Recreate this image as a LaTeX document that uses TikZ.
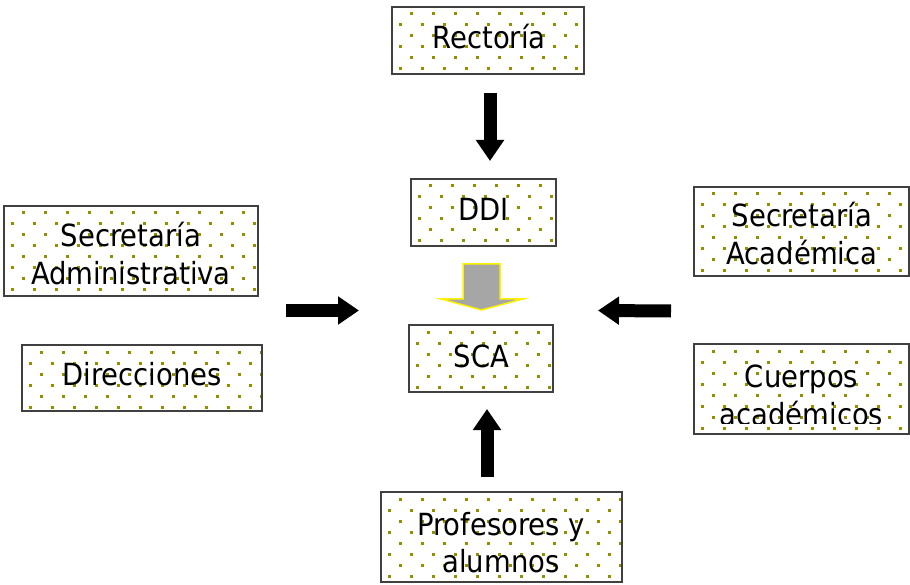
\documentclass[tikz,border=0pt]{standalone}
\usepackage{fontspec}
\setmainfont{DejaVu Sans Condensed}
\usetikzlibrary{arrows.meta,calc}
\definecolor{dotc}{RGB}{145,145,0}
\definecolor{boxline}{RGB}{64,64,64}
\definecolor{arrgray}{RGB}{166,166,166}
\newcommand\mydots[4]{%
  \begin{scope}
    \clip (#1,#2) rectangle (#3,#4);
    \foreach \r [evaluate=\r as \off using {11*(1-mod(\r,2))}] in {0,...,8}{
      \foreach \c in {-1,...,11}{
        \fill[dotc] ({#1+8+\c*22+\off-1.5},{#2+7+\r*11-1.5}) rectangle ++(3,3);
      }
    }
  \end{scope}}
\tikzset{
  boxn/.style={draw=boxline, line width=2pt, inner sep=0pt},
  lbl/.style={anchor=base, inner sep=0pt, font=\fontsize{30.5}{36}\selectfont},
  blk/.style={line width=13pt, -{Triangle[width=27pt,length=21pt]}, black},
}
\begin{document}
\begin{tikzpicture}[x=1pt,y=-1pt]
\useasboundingbox (0,0) rectangle (910,585);
% boxes with dots
\mydots{392}{7}{584}{74}
\node[boxn, minimum width=192pt, minimum height=67pt] (rectoria) at (488,40.5) {};
\node[lbl] (rectoriat) at (489,49) {Rectoría};

\mydots{411}{179}{556}{246}
\node[boxn, minimum width=145pt, minimum height=67pt] (ddi) at (483.5,212.5) {};
\node[lbl] (ddit) at (483.5,221) {DDI};

\mydots{409}{325}{553}{392}
\node[boxn, minimum width=144pt, minimum height=67pt] (sca) at (481,358.5) {};
\node[lbl] (scat) at (481.5,367) {SCA};

\mydots{4}{206}{258}{296}
\node[boxn, minimum width=254pt, minimum height=90pt] (secadm) at (131,251) {};
\node[lbl] (secadm1) at (131,247) {Secretaría};
\node[lbl] (secadm2) at (131,285) {Administrativa};

\mydots{22}{345}{262}{411}
\node[boxn, minimum width=240pt, minimum height=66pt] (direc) at (142,378) {};
\node[lbl] (direct) at (142,385.5) {Direcciones};

\mydots{694}{187}{909}{276}
\node[boxn, minimum width=215pt, minimum height=89pt] (secac) at (801.5,231.5) {};
\node[lbl] (secac1) at (802,227) {Secretaría};
\node[lbl] (secac2) at (802,265) {Académica};

\mydots{694}{344}{909}{434}
\node[boxn, minimum width=215pt, minimum height=90pt] (cuerpos) at (801.5,389) {};
\begin{scope}
  \clip (694,344) rectangle (909,423);
  \node[lbl] (cuerpos1) at (801.5,387) {Cuerpos};
  \node[lbl] (cuerpos2) at (801.5,425) {académicos};
\end{scope}

\mydots{381}{492}{622}{582}
\node[boxn, minimum width=241pt, minimum height=90pt] (prof) at (501.5,537) {};
\node[lbl] (prof1) at (501,535) {Profesores y};
\node[lbl] (prof2) at (501,572) {alumnos};

% arrows
\draw[blk] ($(rectoria.south)+(2,18)$) -- ($(ddi.north)+(6.5,-17)$);
\draw[blk] ($(secadm.east)+(27,59.5)$) -- ($(sca.west)+(-49,-48)$);
\draw[blk] ($(secac.west)+(-22,79.5)$) -- ($(sca.east)+(44,-48)$);
\draw[blk] ($(prof.north)+(-14.5,-14)$) -- ($(sca.south)+(6,16)$);
\begin{scope}[shift={(ddi.south)}]
  \draw[draw=yellow, fill=arrgray, line width=1.5pt, line join=miter]
    (-20.5,17) -- (16.5,17) -- (16.5,52) -- (39.5,52) -- (-2,63) -- (-42.5,52) -- (-20.5,52) -- cycle;
\end{scope}
\end{tikzpicture}
\end{document}
